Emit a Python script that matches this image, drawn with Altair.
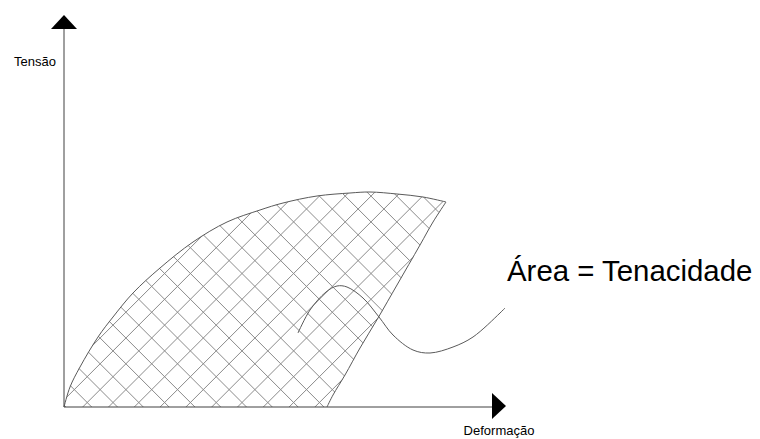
import altair as alt
import numpy as np
import pandas as pd

# ---- data (units: strain to the right, stress upward; origin at the axes' corner)
upper_x = [0, 6, 16, 34, 49, 69, 96, 129, 163, 196, 219, 253, 286, 306, 333, 359, 382]
upper_y = [0, 20, 40, 70, 90, 114, 139, 165, 185, 197, 204, 211, 214, 215, 213, 210, 205]
right_x = [382, 369, 356, 333, 314, 296, 281, 269, 263]
right_y = [205, 185, 162, 122, 89, 59, 32, 12, 0]
curve_x = [234, 246, 262, 273, 283, 299, 315, 329, 349, 366, 389, 409, 436, 441]
curve_y = [74, 97, 115, 121, 120, 109, 90, 72, 57, 54, 60, 70, 94, 99]

axis_x_end = 428      # end of the x axis line (arrow base)
axis_y_end = 378      # end of the y axis line (arrow base)
arrow_x_pos = [435, 1]
arrow_y_pos = [0, 385]

hatch_step = 25.8
hatch_a0 = 18.7       # "/" family offset on the x axis
hatch_b0 = 27.7       # "\" family offset on the x axis

X_DOM = [-56, 688]
Y_DOM = [-32, 399]
W, H = 744, 431

xs = alt.Scale(domain=X_DOM, nice=False, zero=False)
ys = alt.Scale(domain=Y_DOM, nice=False, zero=False)


# ---- polygon used only to clip the hatch lines
def catmull(px, py, n=12):
    P = np.column_stack([px, py]).astype(float)
    P = np.vstack([P[0], P, P[-1]])
    out = []
    for i in range(1, len(P) - 2):
        p0, p1, p2, p3 = P[i - 1], P[i], P[i + 1], P[i + 2]
        for t in np.linspace(0, 1, n, endpoint=False):
            t2, t3 = t * t, t * t * t
            pt = 0.5 * ((2 * p1) + (-p0 + p2) * t + (2 * p0 - 5 * p1 + 4 * p2 - p3) * t2
                        + (-p0 + 3 * p1 - 3 * p2 + p3) * t3)
            out.append(pt)
    out.append(P[-2])
    return np.array(out)


poly = np.vstack([catmull(upper_x, upper_y), catmull(right_x, right_y)[1:]])
poly = np.vstack([poly, poly[0]])


def clip(kind, c):
    # kind '/' : y - x + c = 0 ; kind '\\' : y + x - c = 0
    if kind == "/":
        f = poly[:, 1] - poly[:, 0] + c
    else:
        f = poly[:, 1] + poly[:, 0] - c
    ts = []
    for i in range(len(poly) - 1):
        f1, f2 = f[i], f[i + 1]
        if (f1 > 0) != (f2 > 0):
            r = f1 / (f1 - f2)
            ts.append(poly[i, 1] + r * (poly[i + 1, 1] - poly[i, 1]))
    ts.sort()
    segs = []
    for j in range(0, len(ts) - 1, 2):
        y1, y2 = ts[j], ts[j + 1]
        if kind == "/":
            segs.append((y1 + c, y1, y2 + c, y2))
        else:
            segs.append((c - y1, y1, c - y2, y2))
    return segs


rows = []
for k in range(-20, 40):
    for s in clip("/", hatch_a0 + k * hatch_step):
        rows.append(s)
    for s in clip("\\", hatch_b0 + k * hatch_step):
        rows.append(s)
hatch = pd.DataFrame(rows, columns=["x", "y", "x2", "y2"])

hatch_layer = alt.Chart(hatch).mark_rule(color="#8a8a8a", strokeWidth=1).encode(
    x=alt.X("x:Q", scale=xs, axis=None), y=alt.Y("y:Q", scale=ys, axis=None),
    x2="x2:Q", y2="y2:Q")

bdf = pd.concat([
    pd.DataFrame({"x": upper_x, "y": upper_y, "i": range(len(upper_x)), "g": "u"}),
    pd.DataFrame({"x": right_x, "y": right_y, "i": range(len(right_x)), "g": "r"}),
])
boundary = alt.Chart(bdf).mark_line(color="#5a5a5a", strokeWidth=1, interpolate="catmull-rom").encode(
    x=alt.X("x:Q", scale=xs, axis=None), y=alt.Y("y:Q", scale=ys, axis=None),
    detail="g:N", order="i:Q")

cdf = pd.DataFrame({"x": curve_x, "y": curve_y, "i": range(len(curve_x))})
curve = alt.Chart(cdf).mark_line(color="#5a5a5a", strokeWidth=1, interpolate="catmull-rom").encode(
    x=alt.X("x:Q", scale=xs, axis=None), y=alt.Y("y:Q", scale=ys, axis=None), order="i:Q")

adf = pd.DataFrame({"x": [0, 0], "y": [0, 0], "x2": [axis_x_end, 0], "y2": [0, axis_y_end]})
axes = alt.Chart(adf).mark_rule(color="#404040", strokeWidth=1).encode(
    x=alt.X("x:Q", scale=xs, axis=None), y=alt.Y("y:Q", scale=ys, axis=None),
    x2="x2:Q", y2="y2:Q")

arr_right = alt.Chart(pd.DataFrame({"x": [arrow_x_pos[0]], "y": [arrow_x_pos[1]]})).mark_point(
    shape="M-0.538,-1L0.538,0L-0.538,1Z", size=676, filled=True, color="black", opacity=1,
    strokeWidth=0).encode(
    x=alt.X("x:Q", scale=xs, axis=None), y=alt.Y("y:Q", scale=ys, axis=None))
arr_up = alt.Chart(pd.DataFrame({"x": [arrow_y_pos[0]], "y": [arrow_y_pos[1]]})).mark_point(
    shape="M0,-0.538L1,0.538L-1,0.538Z", size=676, filled=True, color="black", opacity=1,
    strokeWidth=0).encode(
    x=alt.X("x:Q", scale=xs, axis=None), y=alt.Y("y:Q", scale=ys, axis=None))

labels = pd.DataFrame({
    "x": [-29, 435], "y": [345, -24], "t": ["Tensão", "Deformação"]})
small_text = alt.Chart(labels).mark_text(
    font="Liberation Sans", fontSize=13, color="black", align="center", baseline="middle").encode(
    x=alt.X("x:Q", scale=xs, axis=None), y=alt.Y("y:Q", scale=ys, axis=None), text="t:N")

big = pd.DataFrame({"x": [443], "y": [135], "t": ["Área = Tenacidade"]})
big_text = alt.Chart(big).mark_text(
    font="Liberation Sans", fontSize=29.4, color="black", align="left", baseline="middle").encode(
    x=alt.X("x:Q", scale=xs, axis=None), y=alt.Y("y:Q", scale=ys, axis=None), text="t:N")

chart = alt.layer(hatch_layer, boundary, curve, axes, arr_right, arr_up, small_text, big_text).properties(
    width=W, height=H, padding=0, background="white",
    autosize=alt.AutoSizeParams(type="none")
).configure_view(strokeWidth=0, stroke="transparent")

chart.save("out.html", embed_options={"renderer": "svg", "actions": False})
